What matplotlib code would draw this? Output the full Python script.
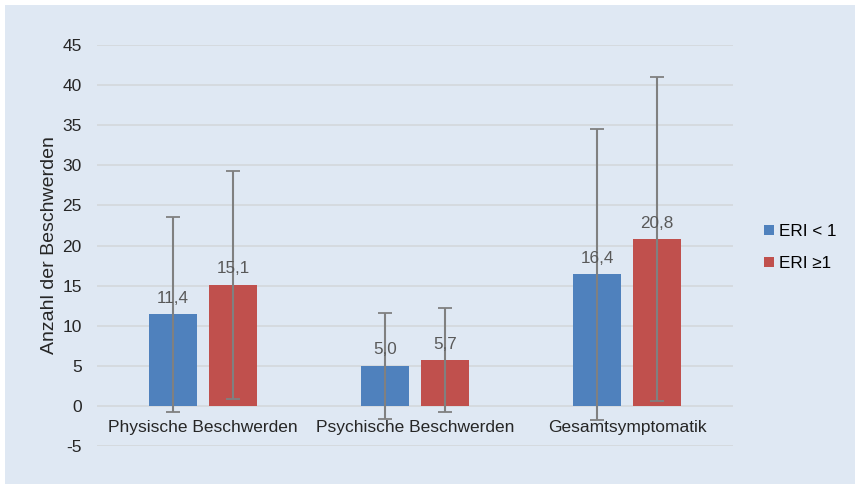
import matplotlib.pyplot as plt
from matplotlib.patches import Rectangle
import numpy as np

categories = ["Physische Beschwerden", "Psychische Beschwerden", "Gesamtsymptomatik"]
series = ["ERI < 1", "ERI \u22651"]
eri_low = [11.4, 5.0, 16.4]
eri_high = [15.1, 5.7, 20.8]
sd_low = [12.1, 6.6, 18.1]
sd_high = [14.2, 6.5, 20.2]

bg = "#dfe8f3"
colors = ["#4f81bd", "#c0504d"]

plt.rcParams["font.family"] = ["Liberation Sans", "DejaVu Sans"]
plt.rcParams["axes.unicode_minus"] = False

fig = plt.figure(figsize=(8.55, 4.84), dpi=100, facecolor="white")
fig.patches.append(Rectangle((5 / 855, 0), 1, 1 - 5 / 484, transform=fig.transFigure,
                             facecolor=bg, edgecolor="none", zorder=-10))
ax = fig.add_axes([97 / 855, 1 - 446 / 484, 636 / 855, 401 / 484])
ax.patch.set_alpha(0)

x = np.arange(len(categories))
w = 0.226
off = (w + 0.057) / 2
for i, (vals, sds) in enumerate([(eri_low, sd_low), (eri_high, sd_high)]):
    pos = x - off if i == 0 else x + off
    ax.bar(pos, vals, w, color=colors[i], label=series[i], zorder=2)
    ax.errorbar(pos, vals, yerr=sds, fmt="none", ecolor="#808080", elinewidth=1.5,
                capsize=5, capthick=1.3, zorder=3)
    for p, v in zip(pos, vals):
        ax.annotate(f"{v:.1f}".replace(".", ","), (p, v), xytext=(0, 6),
                    textcoords="offset points", ha="center", va="bottom",
                    fontsize=12.3, color="#595959", zorder=4)

for xi, c in zip(x, categories):
    ax.annotate(c, (xi, 0), xytext=(0, -10.5), textcoords="offset points",
                ha="center", va="top", fontsize=12.5, color="#262626")

ax.set_xlim(-0.5, 2.5)
ax.set_ylim(-5, 45)
ax.set_yticks(range(-5, 46, 5))
ax.tick_params(axis="y", length=0, pad=11, labelsize=12.5, labelcolor="#262626")
ax.set_xticks([])
ax.grid(axis="y", color="#d4d8dc", linewidth=1.2, zorder=0)
ax.set_axisbelow(True)
for s in ax.spines.values():
    s.set_visible(False)
ax.set_ylabel("Anzahl der Beschwerden", fontsize=14, color="#262626", labelpad=3)

ax.legend(loc="center left", bbox_to_anchor=(1.025, 0.495), frameon=False, fontsize=12.3,
          handlelength=0.55, handleheight=0.55, handletextpad=0.3, labelspacing=1.0)

fig.savefig("out.png", dpi=100, facecolor=fig.get_facecolor())
